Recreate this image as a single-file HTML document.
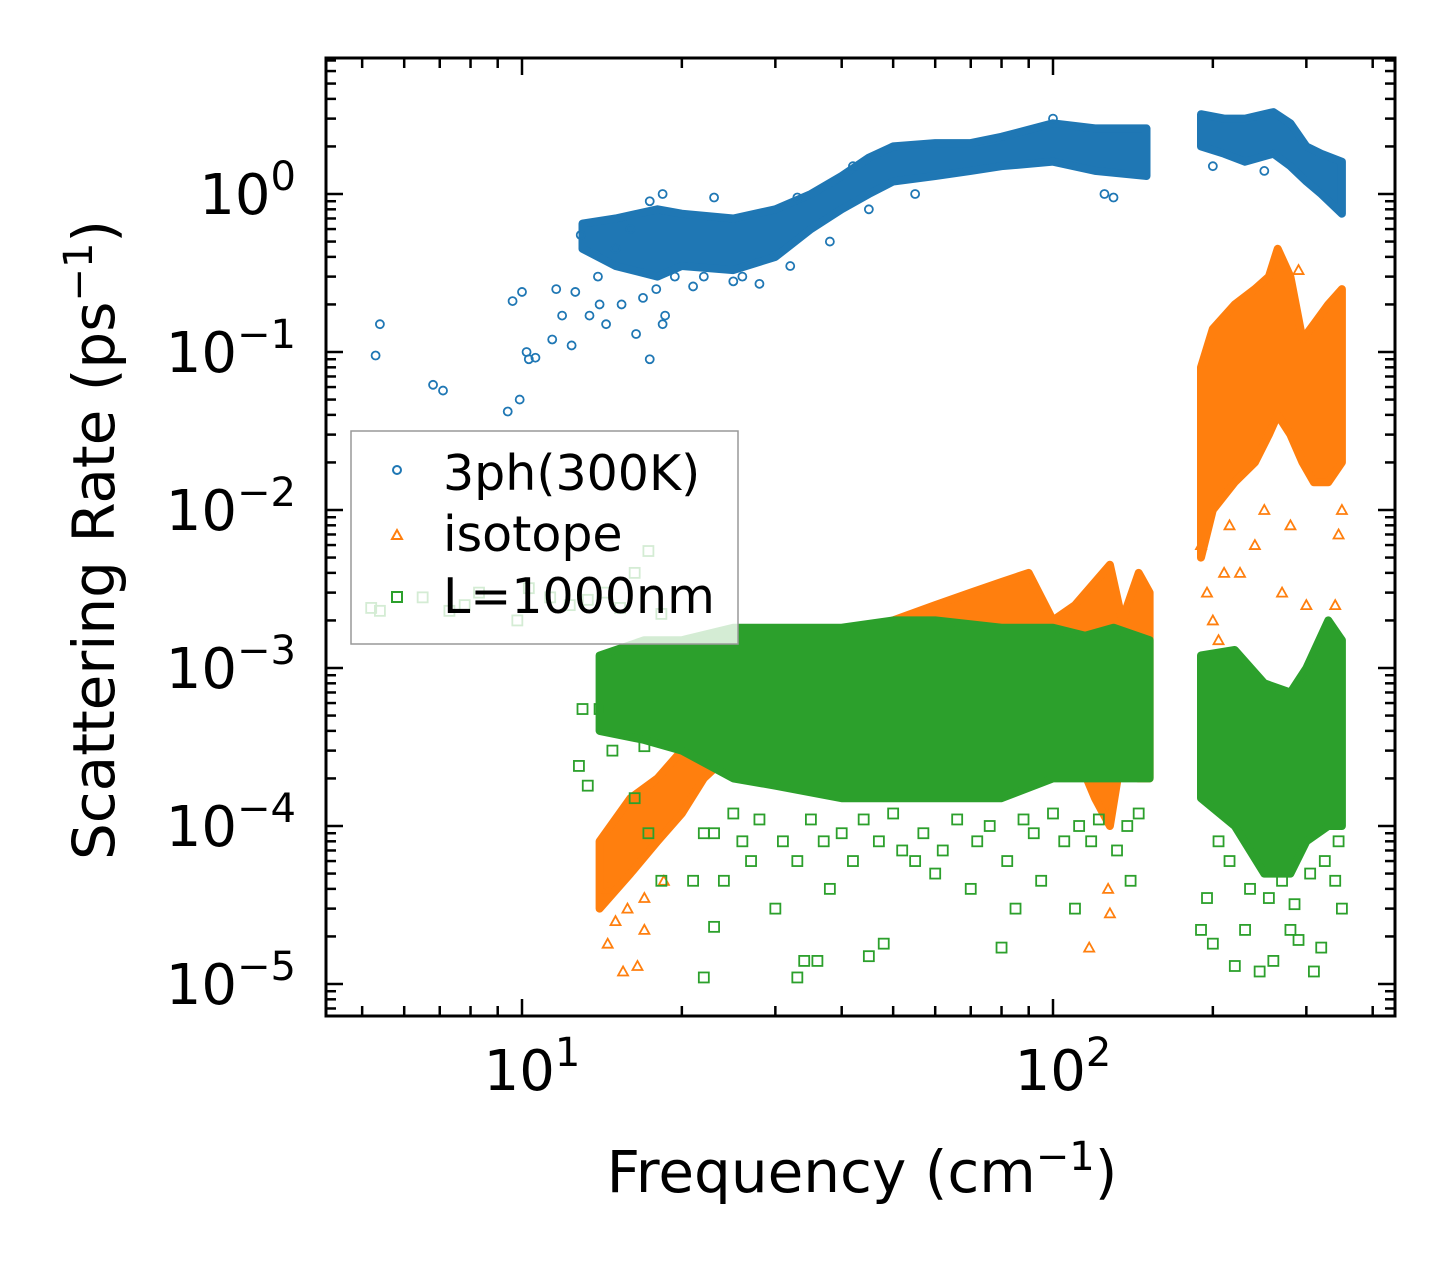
<!DOCTYPE html>
<html><head><meta charset="utf-8"><style>
body{margin:0;background:#fff}
svg text{font-family:"DejaVu Sans","Liberation Sans",sans-serif;fill:#000}
</style></head><body>
<svg id="chart" width="1455" height="1265" viewBox="0 0 1455 1265" xmlns="http://www.w3.org/2000/svg">
<rect width="1455" height="1265" fill="#fff"/>
<g id="plot"></g>
<g id="axes"></g>
<g id="legend">
 <rect x="351" y="431" width="387" height="213" fill="#fff" fill-opacity="0.8" stroke="#999" stroke-width="1.5"/>
 <g>
  <circle cx="397" cy="470" r="4" fill="none" stroke="#1f77b4" stroke-width="2"/>
  <text x="443" y="490" font-size="49">3ph(300K)</text></g>
 <g>
  <path d="M392 539 L397 530 L402 539 Z" fill="none" stroke="#ff7f0e" stroke-width="2"/>
  <text x="443" y="551" font-size="49">isotope</text></g>
 <g>
  <rect x="392" y="592" width="10" height="10" fill="none" stroke="#2ca02c" stroke-width="2"/>
  <text x="443" y="613" font-size="49">L=1000nm</text></g>
</g>
<text x="862" y="1192" font-size="58" text-anchor="middle">Frequency (cm<tspan dy="-22" font-size="40">−1</tspan><tspan dy="22">)</tspan></text>
<text transform="translate(114,540) rotate(-90)" font-size="58" text-anchor="middle">Scattering Rate (ps<tspan dy="-22" font-size="40">−1</tspan><tspan dy="22">)</tspan></text>
</svg>
<script>
const xTicks=[1,2];
const yTicks=[0,-1,-2,-3,-4,-5];
// bands: [freq, low, high]
const blueBand1=[[13,0.45,0.65],[15,0.35,0.7],[18,0.3,0.8],[20,0.35,0.75],[25,0.33,0.7],[30,0.4,0.8],[35,0.6,1.0],[40,0.8,1.3],[45,1.0,1.7],[50,1.2,2.0],[60,1.3,2.1],[70,1.4,2.1],[80,1.5,2.3],[100,1.6,2.8],[120,1.4,2.6],[150,1.3,2.6]];
const blueBand2=[[190,2.0,3.2],[210,1.8,3.0],[230,1.6,3.0],[260,1.8,3.3],[280,1.5,2.8],[300,1.2,2.0],[320,1.0,1.8],[350,0.75,1.6]];
const bluePts=[[5.3,0.095],[5.4,0.15],[6.8,0.062],[7.1,0.057],[9.4,0.042],[9.6,0.21],[9.9,0.05],[10.0,0.24],[10.2,0.1],[10.3,0.09],[10.6,0.092],[11.4,0.12],[11.6,0.25],[11.9,0.17],[12.4,0.11],[12.6,0.24],[12.9,0.55],[13.4,0.17],[13.9,0.3],[14.4,0.15],[15.4,0.2],[16.4,0.13],[16.9,0.22],[17.4,0.09],[17.9,0.25],[18.4,0.15],[18.6,0.17],[18.4,1.0],[17.4,0.9],[19.4,0.3],[22,0.3],[25,0.28],[28,0.27],[100,3.0],[125,1.0],[130,0.95],[200,1.5],[250,1.4],[14,0.2],[15,0.45],[16,0.6],[21,0.26],[23,0.95],[26,0.3],[32,0.35],[38,0.5],[45,0.8],[55,1.0],[33,0.95],[42,1.5]];
const orangeBand1=[[14,3e-5,8e-5],[16,5e-5,1.5e-4],[18,8e-5,2e-4],[20,1.2e-4,3e-4],[22,2e-4,5e-4],[25,3e-4,8e-4],[30,3e-4,1e-3],[40,4e-4,1.5e-3],[50,4e-4,2.0e-3],[60,5e-4,2.5e-3],[70,5e-4,3e-3],[80,6e-4,3.5e-3],[90,5e-4,4e-3],[100,4e-4,2e-3],[110,3e-4,2.5e-3],[120,1.5e-4,3.5e-3],[128,1e-4,4.5e-3],[135,3e-4,2e-3],[145,2e-4,4e-3],[152,2e-4,3e-3]];
const orangeBand2=[[190,5e-3,0.08],[200,1e-2,0.14],[220,1.5e-2,0.2],[240,2e-2,0.25],[255,3e-2,0.3],[265,4e-2,0.45],[280,3e-2,0.3],[295,2e-2,0.12],[310,1.5e-2,0.15],[330,1.5e-2,0.2],[350,2e-2,0.25]];
const orangePts=[[14.5,1.8e-5],[15.5,1.2e-5],[16.5,1.3e-5],[17,2.2e-5],[18.5,4.5e-5],[14.5,4e-5],[15,2.5e-5],[15.8,3e-5],[17,3.5e-5],[117,1.7e-5],[128,2.8e-5],[127,4e-5],[190,6e-3],[195,3e-3],[200,2e-3],[205,1.5e-3],[210,4e-3],[215,8e-3],[225,4e-3],[240,6e-3],[250,1e-2],[270,3e-3],[280,8e-3],[300,2.5e-3],[310,1e-3],[320,7e-4],[340,2.5e-3],[345,7e-3],[350,1e-2],[290,0.33]];
const greenBand1=[[14,4e-4,1.2e-3],[17,3.5e-4,1.5e-3],[20,3e-4,1.5e-3],[25,2e-4,1.8e-3],[30,1.8e-4,1.8e-3],[40,1.5e-4,1.8e-3],[50,1.5e-4,2e-3],[60,1.5e-4,2e-3],[80,1.5e-4,1.8e-3],[100,2e-4,1.8e-3],[115,2e-4,1.6e-3],[130,2e-4,1.8e-3],[152,2e-4,1.5e-3]];
const greenBand2=[[190,1.5e-4,1.2e-3],[220,1e-4,1.3e-3],[250,5e-5,8e-4],[280,5e-5,7e-4],[300,8e-5,1e-3],[330,1e-4,2e-3],[350,1e-4,1.5e-3]];
const greenPts=[[5.2,2.4e-3],[5.4,2.3e-3],[6.5,2.8e-3],[7.3,2.3e-3],[7.8,2.5e-3],[8.3,3e-3],[9.8,2e-3],[10.3,3.2e-3],[11.3,2.8e-3],[12.3,2.5e-3],[13.3,2.7e-3],[14.3,3e-3],[15.3,2.4e-3],[16.3,4e-3],[17.3,5.5e-3],[18.3,2.2e-3],[12.8,2.4e-4],[13.3,1.8e-4],[14.8,3e-4],[16.3,1.5e-4],[17.3,9e-5],[18.3,4.5e-5],[21,4.5e-5],[22,1.1e-5],[23,2.3e-5],[24,4.5e-5],[27,6e-5],[30,3e-5],[33,1.1e-5],[34,1.4e-5],[36,1.4e-5],[38,4e-5],[45,1.5e-5],[48,1.8e-5],[55,6e-5],[60,5e-5],[70,4e-5],[80,1.7e-5],[85,3e-5],[95,4.5e-5],[110,3e-5],[118,8e-5],[140,4.5e-5],[190,2.2e-5],[195,3.5e-5],[200,1.8e-5],[220,1.3e-5],[230,2.2e-5],[245,1.2e-5],[260,1.4e-5],[280,2.2e-5],[290,1.9e-5],[310,1.2e-5],[320,1.7e-5],[340,4.5e-5],[350,3e-5],
[22,9e-5],[23,9e-5],[25,1.2e-4],[26,8e-5],[28,1.1e-4],[31,8e-5],[33,6e-5],[35,1.1e-4],[37,8e-5],[40,9e-5],[42,6e-5],[44,1.1e-4],[47,8e-5],[50,1.2e-4],[52,7e-5],[57,9e-5],[62,7e-5],[66,1.1e-4],[72,8e-5],[76,1.0e-4],[82,6e-5],[88,1.1e-4],[92,9e-5],[100,1.2e-4],[105,8e-5],[112,1.0e-4],[122,1.1e-4],[132,7e-5],[138,1.0e-4],[145,1.2e-4],[14,5.5e-4],[13,5.5e-4],[15,6e-4],[16,4e-4],[17,3.2e-4],[205,8e-5],[215,6e-5],[235,4e-5],[255,3.5e-5],[270,4.5e-5],[285,3.2e-5],[305,5e-5],[325,6e-5],[345,8e-5]];

const svg=document.getElementById('chart'),plot=document.getElementById('plot'),axes=document.getElementById('axes');
const NS='http://www.w3.org/2000/svg';
const L=326,R=1395,T=58,B=1016;
function xs(v){return 522+531*(Math.log10(v)-1);}
function ys(v){return 194-158*Math.log10(v);}
function mk(tag,attrs,parent){const e=document.createElementNS(NS,tag);for(const k in attrs)e.setAttribute(k,attrs[k]);parent.appendChild(e);return e;}
const cols={blue:'#1f77b4',orange:'#ff7f0e',green:'#2ca02c'};
function band(data,color,name){
  let d='M'+data.map(p=>xs(p[0]).toFixed(1)+' '+ys(p[2]).toFixed(1)).join(' L');
  d+=' L'+data.slice().reverse().map(p=>xs(p[0]).toFixed(1)+' '+ys(p[1]).toFixed(1)).join(' L')+'Z';
  const e=mk('path',{d:d,fill:color,stroke:color,'stroke-width':8,'stroke-linejoin':'round'},plot);
  
  
}
function pts(data,color,shape,name,alpha){
  const g=mk('g',{},plot);
  
  
  data.forEach(p=>{const x=xs(p[0]),y=ys(p[1]);let e;
    const a={fill:'none',stroke:color,'stroke-width':1.8,'stroke-opacity':alpha||1};
    if(shape==='c'){a.cx=x;a.cy=y;a.r=4;e=mk('circle',a,g);}
    else if(shape==='t'){a.d=`M${x-5} ${y+4} L${x} ${y-5} L${x+5} ${y+4}Z`;e=mk('path',a,g);}
    else {a.x=x-5;a.y=y-5;a.width=10;a.height=10;e=mk('rect',a,g);}
    
    
  });
}
band(blueBand1,cols.blue,'3ph-band-low');band(blueBand2,cols.blue,'3ph-band-high');
pts(bluePts,cols.blue,'c','3ph-points');
band(orangeBand1,cols.orange,'isotope-band-low');band(orangeBand2,cols.orange,'isotope-band-high');
pts(orangePts,cols.orange,'t','isotope-points');
band(greenBand1,cols.green,'boundary-band-low');band(greenBand2,cols.green,'boundary-band-high');
pts(greenPts,cols.green,'s','boundary-points');
const fr=mk('rect',{x:L,y:T,width:R-L,height:B-T,fill:'none',stroke:'#000','stroke-width':3},axes);


for(let dec=0;dec<=2;dec++){for(let m=1;m<10;m++){const v=m*Math.pow(10,dec);const x=xs(v);if(x<L||x>R)continue;const len=m===1?17:10;
  mk('line',{x1:x,y1:B,x2:x,y2:B-len,stroke:'#000','stroke-width':2.5},axes);
  mk('line',{x1:x,y1:T,x2:x,y2:T+len,stroke:'#000','stroke-width':2.5},axes);}}
xTicks.forEach(e=>{const t=mk('text',{x:xs(Math.pow(10,e))+10,y:1090,'font-size':56,'text-anchor':'middle'},axes);
  
  
  t.innerHTML='10<tspan dy="-24" font-size="40">'+e+'</tspan>';});
for(let dec=-6;dec<=0;dec++){for(let m=1;m<10;m++){const v=m*Math.pow(10,dec);const y=ys(v);if(y<T||y>B)continue;const len=m===1?17:10;
  mk('line',{x1:L,y1:y,x2:L+len,y2:y,stroke:'#000','stroke-width':2.5},axes);
  mk('line',{x1:R,y1:y,x2:R-len,y2:y,stroke:'#000','stroke-width':2.5},axes);}}
yTicks.forEach(e=>{const t=mk('text',{x:296,y:ys(Math.pow(10,e))+20,'font-size':56,'text-anchor':'end'},axes);
  
  
  t.innerHTML='10<tspan dy="-24" font-size="40">'+(e<0?'−'+(-e):e)+'</tspan>';});
</script>
</body></html>
